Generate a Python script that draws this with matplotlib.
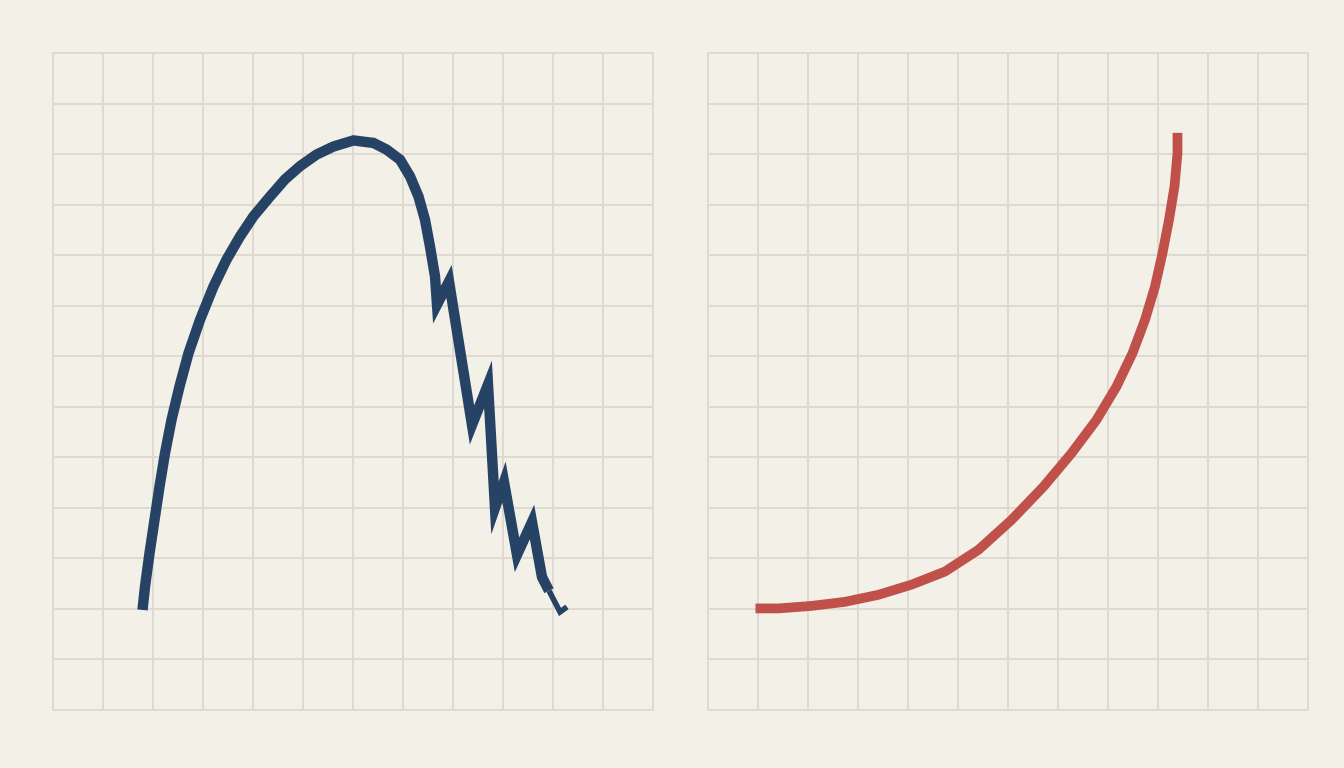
import matplotlib.pyplot as plt
import numpy as np

# values, in grid units (columns 0-12, rows 0-13)
arc_x = [1.79, 1.84, 1.93, 2.03, 2.13, 2.24, 2.37, 2.53, 2.71, 2.94, 3.21,
         3.47, 3.74, 4.01, 4.34, 4.64, 4.94, 5.27, 5.61, 6.01, 6.41, 6.67,
         6.94, 7.14, 7.31, 7.44, 7.54, 7.64]
arc_y = [1.98, 2.44, 3.10, 3.76, 4.42, 5.08, 5.74, 6.40, 7.06, 7.72, 8.38,
         8.91, 9.37, 9.77, 10.16, 10.50, 10.76, 10.99, 11.15, 11.27, 11.22,
         11.09, 10.89, 10.56, 10.16, 9.70, 9.17, 8.58]
crash_x = [7.68, 7.92, 8.38, 8.70, 8.84, 9.02, 9.28, 9.58, 9.78, 9.92]
crash_y = [8.02, 8.48, 5.64, 6.44, 4.00, 4.51, 3.07, 3.72, 2.63, 2.36]
tail_x = [9.92, 10.14, 10.28]
tail_y = [2.36, 1.94, 2.04]

right_x = [0.95, 1.41, 2.07, 2.74, 3.41, 4.07, 4.74, 5.41, 6.07, 6.71, 7.27,
           7.77, 8.17, 8.49, 8.74, 8.94, 9.09, 9.22, 9.33, 9.39, 9.39]
right_y = [2.01, 2.01, 2.06, 2.14, 2.28, 2.48, 2.74, 3.17, 3.76, 4.42, 5.08,
           5.74, 6.40, 7.06, 7.72, 8.38, 9.04, 9.70, 10.36, 11.02, 11.42]

bg = '#f3f0e8'
grid_col = '#dedad2'
blue = '#264366'
red = '#c0504a'

fig = plt.figure(figsize=(13.44, 7.68), dpi=100, facecolor=bg)
ax1 = fig.add_axes([53/1344, 58/768, 600/1344, 657/768])
ax2 = fig.add_axes([708/1344, 58/768, 600/1344, 657/768])

for ax in (ax1, ax2):
    ax.set_facecolor(bg)
    ax.set_xlim(0, 12)
    ax.set_ylim(0, 13)
    ax.set_xticks(np.arange(0, 13))
    ax.set_yticks(np.arange(0, 14))
    ax.grid(True, color=grid_col, linewidth=1.4)
    ax.tick_params(length=0, labelbottom=False, labelleft=False)
    for s in ax.spines.values():
        s.set_color(grid_col)
        s.set_linewidth(1.4)
    ax.set_axisbelow(True)

ax1.plot(arc_x + crash_x, arc_y + crash_y, color=blue, linewidth=7.5,
         solid_joinstyle='miter', solid_capstyle='butt')
# the end of the blue line gets thinner
ax1.plot(tail_x, tail_y, color=blue, linewidth=4,
         solid_joinstyle='miter', solid_capstyle='butt')
ax2.plot(right_x, right_y, color=red, linewidth=7,
         solid_joinstyle='round', solid_capstyle='butt')

fig.savefig('out.png', dpi=100, facecolor=bg)
